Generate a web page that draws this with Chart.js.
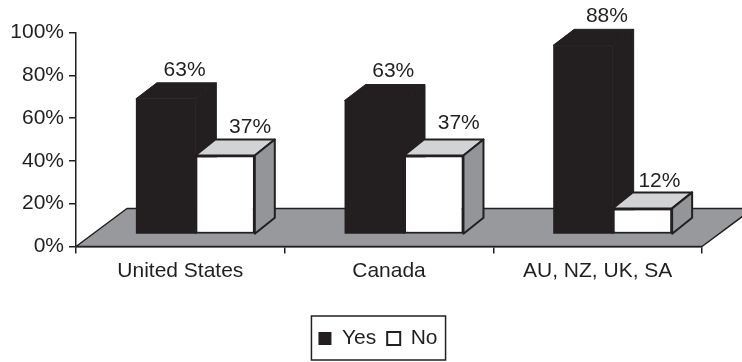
<!DOCTYPE html>
<html>
<head>
<meta charset="utf-8">
<style>
  body { margin: 0; background: #fff; }
  canvas { display: block; }
</style>
<script src="https://cdn.jsdelivr.net/npm/chart.js@4"></script>
</head>
<body>
<canvas id="barChart" width="742" height="362"></canvas>
<script>
const categories = ['United States', 'Canada', 'AU, NZ, UK, SA'];
const yesValues = [63.4, 62.6, 88.4];
const noValues = [36.9, 36.9, 12.2];
const yTicks = [0, 20, 40, 60, 80, 100];

const INK = '#231f20';
const FLOOR = '#98999c';
const TOP_FACE = '#d1d3d4';
const SIDE_FACE = '#939598';
const FONT = { family: '"Liberation Sans", Arial, sans-serif', size: 21 };

// 3d look: floor depth, bar depth, how far the bars sit in from the front edge
const floorDepth = { x: 51, y: -38 };
const yesDepth = { x: 21, y: -16 };
const noDepth = { x: 20, y: -16 };
const barShift = { x: 15, y: -12 };
const legendShift = 27;

// label nudges from the top-back of each bar [dataset][category]
const labelNudge = [
  [[0, 0], [0, 0], [5, 0]],
  [[6, 1], [6, -3], [-2, 2]]
];

function poly(ctx, pts, fill, stroke, width) {
  ctx.beginPath();
  pts.forEach((p, i) => (i ? ctx.lineTo(p[0], p[1]) : ctx.moveTo(p[0], p[1])));
  ctx.closePath();
  ctx.fillStyle = fill;
  ctx.fill();
  ctx.lineWidth = width;
  ctx.strokeStyle = stroke;
  ctx.lineJoin = 'round';
  ctx.stroke();
}

function drawFaces(ctx, meta, isYes) {
  const d = isYes ? yesDepth : noDepth;
  const w = isYes ? 1 : 2;
  ctx.save();
  meta.data.forEach(bar => {
    const l = bar.x - bar.width / 2, r = bar.x + bar.width / 2;
    const t = bar.y, b = bar.base;
    poly(ctx, [[l, t], [l + d.x, t + d.y], [r + d.x, t + d.y], [r, t]], isYes ? INK : TOP_FACE, INK, w);
    poly(ctx, [[r, t], [r + d.x, t + d.y], [r + d.x, b + d.y], [r, b]], isYes ? INK : SIDE_FACE, INK, w);
  });
  ctx.restore();
}

const threeD = {
  id: 'threeD',
  afterLayout(chart) {
    chart.legend.left += legendShift;
    chart.legend.right += legendShift;
  },
  afterDatasetsUpdate(chart) {
    chart.data.datasets.forEach((ds, i) => {
      chart.getDatasetMeta(i).data.forEach(bar => {
        bar.x += barShift.x;
        bar.y += barShift.y;
        bar.base += barShift.y;
      });
    });
  },
  beforeDraw(chart) {
    const { ctx, chartArea: a } = chart;
    ctx.save();
    poly(ctx, [
      [a.left, a.bottom],
      [a.left + floorDepth.x, a.bottom + floorDepth.y],
      [a.right + floorDepth.x, a.bottom + floorDepth.y],
      [a.right, a.bottom]
    ], FLOOR, INK, 1.5);
    ctx.restore();
  },
  // chart.js paints dataset 0 last, but No has to sit in front of Yes
  beforeDatasetDraw(chart, args) {
    if (args.index === 1) return false;
    drawFaces(chart.ctx, args.meta, true);
  },
  afterDatasetDraw(chart, args) {
    if (args.index !== 0) return;
    const meta = chart.getDatasetMeta(1);
    drawFaces(chart.ctx, meta, false);
    meta.data.forEach(bar => bar.draw(chart.ctx));
  },
  afterDatasetsDraw(chart) {
    const ctx = chart.ctx;
    ctx.save();
    ctx.font = FONT.size + 'px ' + FONT.family;
    ctx.fillStyle = INK;
    ctx.textAlign = 'center';
    ctx.textBaseline = 'middle';
    chart.data.datasets.forEach((ds, i) => {
      chart.getDatasetMeta(i).data.forEach((bar, j) => {
        const n = labelNudge[i][j];
        ctx.fillText(Math.round(ds.data[j]) + '%', bar.x + 19 + n[0], bar.y - 29 + n[1]);
      });
    });
    ctx.restore();
  },
  // frame only around the legend items, not the full legend block
  afterDraw(chart) {
    const { ctx, legend } = chart;
    const boxes = legend.legendHitBoxes;
    const last = boxes[boxes.length - 1];
    const left = boxes[0].left - 7;
    const right = last.left + last.width + 8;
    ctx.save();
    ctx.lineWidth = 1.5;
    ctx.strokeStyle = INK;
    ctx.strokeRect(left, legend.top - 1, right - left, legend.height + 2);
    ctx.restore();
  }
};

new Chart('barChart', {
  type: 'bar',
  data: {
    labels: categories,
    datasets: [
      { label: 'Yes', data: yesValues, backgroundColor: INK, borderColor: INK, borderWidth: 0, borderSkipped: false },
      { label: 'No', data: noValues, backgroundColor: '#ffffff', borderColor: INK, borderWidth: 2, borderSkipped: false }
    ]
  },
  options: {
    responsive: false,
    animation: false,
    categoryPercentage: 0.57,
    barPercentage: 1,
    layout: { padding: { top: 32.5, right: 40, bottom: 3, left: 0 } },
    plugins: {
      tooltip: { enabled: false },
      legend: {
        position: 'bottom',
        labels: { color: INK, font: FONT, boxWidth: 13, boxHeight: 13, padding: 11 }
      }
    },
    scales: {
      x: {
        afterFit: s => { s.height = 70.5; },
        grid: { drawOnChartArea: false, color: INK, lineWidth: 1.5, tickLength: 7, offset: true },
        border: { color: INK, width: 1.5 },
        ticks: { color: INK, font: FONT, padding: 5, maxRotation: 0 }
      },
      y: {
        min: 0,
        max: 100,
        afterBuildTicks: s => { s.ticks = yTicks.map(v => ({ value: v })); },
        afterFit: s => { s.width = 76; },
        grid: { drawOnChartArea: false, color: INK, lineWidth: 1.5, tickLength: 7 },
        border: { color: INK, width: 1.5 },
        ticks: { color: INK, font: FONT, padding: 5, callback: v => v + '%' }
      }
    }
  },
  plugins: [threeD]
});
</script>
</body>
</html>
